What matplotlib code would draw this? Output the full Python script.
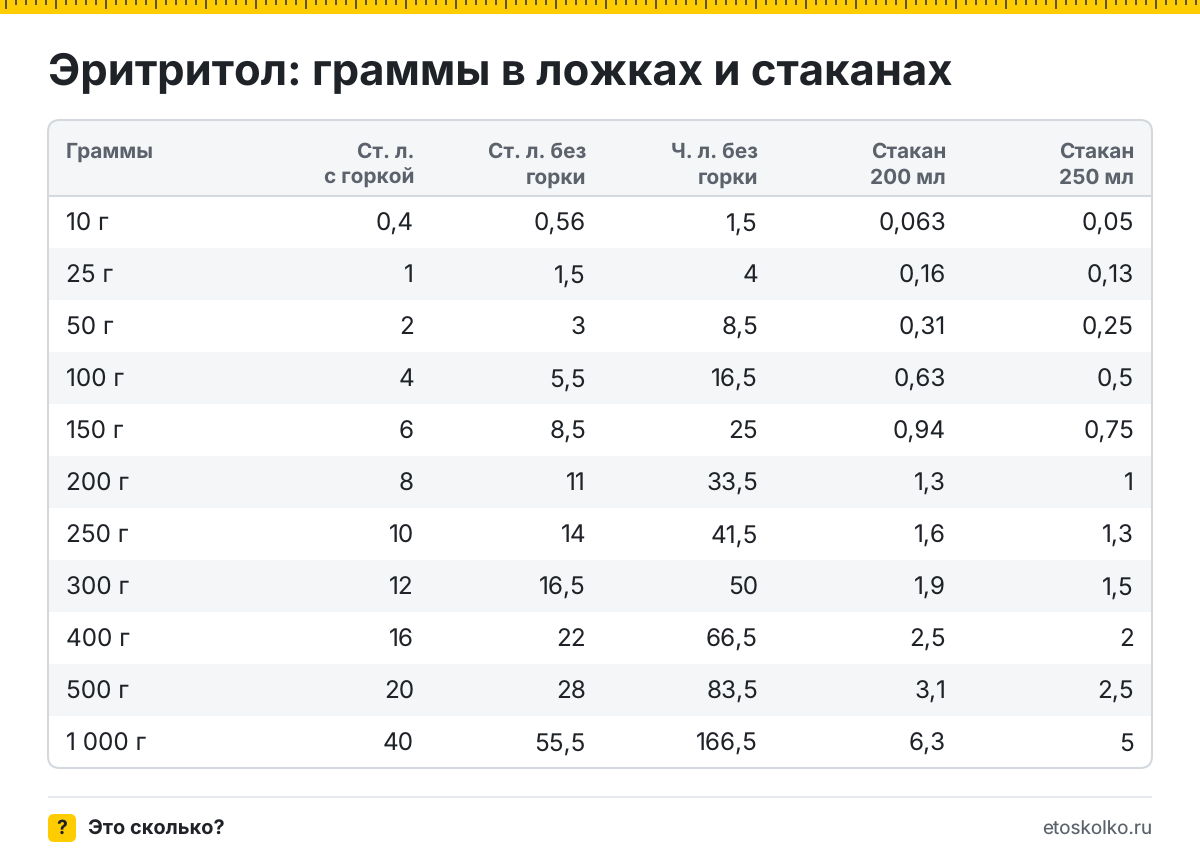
import matplotlib
matplotlib.use('Agg')
import matplotlib.pyplot as plt
from matplotlib.patches import FancyBboxPatch, Rectangle

plt.rcParams['font.family'] = ['Inter', 'DejaVu Sans']
plt.rcParams['text.hinting'] = 'no_hinting'

title = 'Эритритол: граммы в ложках и стаканах'
columns = ['Граммы', 'Ст. л.\nс горкой', 'Ст. л. без\nгорки', 'Ч. л. без\nгорки',
           'Стакан\n200 мл', 'Стакан\n250 мл']
grams = ['10 г', '25 г', '50 г', '100 г', '150 г', '200 г', '250 г', '300 г',
         '400 г', '500 г', '1 000 г']
tbsp_heaped = ['0,4', '1', '2', '4', '6', '8', '10', '12', '16', '20', '40']
tbsp_level = ['0,56', '1,5', '3', '5,5', '8,5', '11', '14', '16,5', '22', '28', '55,5']
tsp_level = ['1,5', '4', '8,5', '16,5', '25', '33,5', '41,5', '50', '66,5', '83,5', '166,5']
glass_200 = ['0,063', '0,16', '0,31', '0,63', '0,94', '1,3', '1,6', '1,9', '2,5', '3,1', '6,3']
glass_250 = ['0,05', '0,13', '0,25', '0,5', '0,75', '1', '1,3', '1,5', '2', '2,5', '5']

YELLOW = '#ffcc00'
DARK = '#1f2328'
GREY = '#5b626b'
SHADE = '#f4f6f8'
EDGE = '#d3d9df'

fig = plt.figure(figsize=(12, 8.6), dpi=100)
ax = fig.add_axes([0, 0, 1, 1])
ax.set_xlim(0, 1200)
ax.set_ylim(860, 0)
ax.axis('off')

# ruler on top
ax.add_patch(Rectangle((0, 0), 1200, 14, fc=YELLOW, ec='none'))
for x in range(5, 1200, 10):
    h = 9 if (x - 5) % 50 == 0 else 5
    ax.add_patch(Rectangle((x, 0), 2, h, fc='#5f5427', ec='none'))

ax.text(48, 85, title, fontsize=31.4, fontweight='bold', color=DARK, va='baseline', ha='left')

# table background, clipped to the rounded card
card = FancyBboxPatch((48, 120), 1104, 648, boxstyle='round,pad=0,rounding_size=12',
                      fc='white', ec='none', zorder=1)
ax.add_patch(card)
head = Rectangle((48, 120), 1104, 76, fc=SHADE, ec='none', zorder=2)
ax.add_patch(head)
head.set_clip_path(card)
row_h = 52
for i in range(len(grams)):
    if i % 2 == 1:
        r = Rectangle((48, 196 + i * row_h), 1104, row_h, fc=SHADE, ec='none', zorder=2)
        ax.add_patch(r)
        r.set_clip_path(card)
ax.plot([48, 1152], [196, 196], color=EDGE, lw=1.5, zorder=3, solid_capstyle='butt')
ax.add_patch(FancyBboxPatch((48, 120), 1104, 648, boxstyle='round,pad=0,rounding_size=12',
                            fc='none', ec=EDGE, lw=1.5, zorder=4))

# text, all on baselines so rows do not jitter
right_edges = [414, 586, 758, 946, 1134]
ax.text(66, 158, columns[0], fontsize=15, fontweight='bold', color=GREY, va='baseline', zorder=5)
for x, label in zip(right_edges, columns[1:]):
    top, bottom = label.split('\n')
    ax.text(x, 158, top, fontsize=15, fontweight='bold', color=GREY, ha='right', va='baseline', zorder=5)
    ax.text(x, 184, bottom, fontsize=15, fontweight='bold', color=GREY, ha='right', va='baseline', zorder=5)

series = [tbsp_heaped, tbsp_level, tsp_level, glass_200, glass_250]
for i, g in enumerate(grams):
    y = 230.5 + i * row_h
    ax.text(66, y, g, fontsize=17.5, color=DARK, va='baseline', zorder=5)
    for x, values in zip(right_edges, series):
        ax.text(x, y, values[i], fontsize=17.5, color=DARK, ha='right', va='baseline', zorder=5)

# footer
ax.plot([48, 1152], [796.5, 796.5], color='#e6eaee', lw=1.5, solid_capstyle='butt')
ax.add_patch(FancyBboxPatch((48, 814), 28, 28, boxstyle='round,pad=0,rounding_size=6', fc=YELLOW, ec='none'))
ax.text(62, 834, '?', fontsize=14, fontweight='bold', color=DARK, ha='center', va='baseline')
ax.text(88, 835, 'Это сколько?', fontsize=14.4, fontweight='bold', color=DARK, va='baseline')
ax.text(1152, 835, 'etoskolko.ru', fontsize=13.6, color=GREY, ha='right', va='baseline')

fig.savefig('out.png', dpi=100)
